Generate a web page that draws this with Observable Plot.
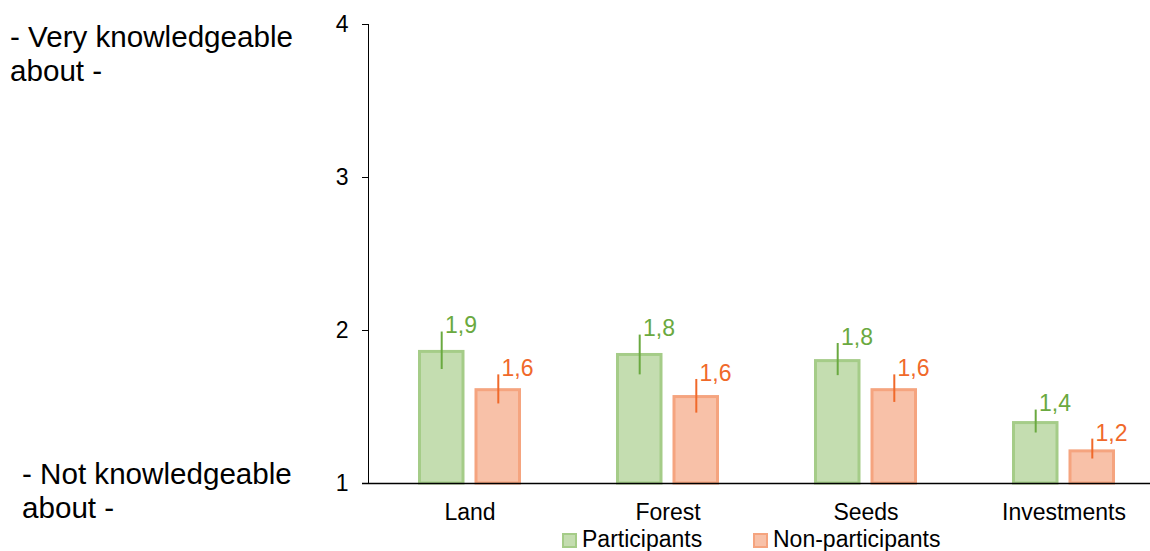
<!DOCTYPE html>
<html>
<head>
<meta charset="utf-8">
<script src="https://cdn.jsdelivr.net/npm/d3@7"></script>
<script src="https://cdn.jsdelivr.net/npm/@observablehq/plot@0.6"></script>
<style>
  html, body { margin: 0; padding: 0; background: #fff; }
  body { font-family: "Liberation Sans", Arial, sans-serif; color: #000; }
  #wrap { position: relative; width: 1150px; height: 551px; overflow: hidden; }
  .side { position: absolute; font-size: 29.6px; line-height: 34px; color: #000; white-space: nowrap; }
  #legend { position: absolute; left: 0; top: 527px; width: 1150px; height: 24px; font-size: 23px; line-height: 24px; }
  .item { position: absolute; top: 0; white-space: nowrap; }
  .sw { display: inline-block; width: 11px; height: 11px; border: 2px solid; margin-right: 5px; vertical-align: -1px; }
</style>
</head>
<body>
<div id="wrap">
  <div id="chart"></div>
  <div class="side" style="left:10px; top:19.5px;">- Very knowledgeable<br>about -</div>
  <div class="side" style="left:22px; top:456.5px;">- Not knowledgeable<br>about -</div>
  <div id="legend"></div>
</div>
<script>
const categories = ["Land", "Forest", "Seeds", "Investments"];
const seriesNames = ["Participants", "Non-participants"];
const participants = [1.86, 1.84, 1.80, 1.395];
const participantsLow = [1.745, 1.71, 1.705, 1.33];
const participantsHigh = [1.99, 1.97, 1.915, 1.48];
const participantLabels = ["1,9", "1,8", "1,8", "1,4"];
const nonParticipants = [1.61, 1.565, 1.61, 1.21];
const nonParticipantsLow = [1.52, 1.46, 1.53, 1.16];
const nonParticipantsHigh = [1.71, 1.68, 1.71, 1.29];
const nonParticipantLabels = ["1,6", "1,6", "1,6", "1,2"];
const yTicks = [1, 2, 3, 4];

const colors = {
  Participants: {fill: "#c4ddb0", stroke: "#a5cc88", dark: "#6aa940"},
  "Non-participants": {fill: "#f8c1a8", stroke: "#f5a47f", dark: "#f0692a"}
};

function rows(name, values, lows, highs, labels) {
  return categories.map((c, i) => ({category: c, series: name, value: values[i], low: lows[i], high: highs[i], label: labels[i]}));
}
const partRows = rows(seriesNames[0], participants, participantsLow, participantsHigh, participantLabels);
const nonRows = rows(seriesNames[1], nonParticipants, nonParticipantsLow, nonParticipantsHigh, nonParticipantLabels);

const P = colors.Participants, N = colors["Non-participants"];
const font = "Liberation Sans, Arial, sans-serif";

const chart = Plot.plot({
  width: 1150,
  height: 527,
  marginLeft: 368,
  marginRight: 0,
  marginTop: 24,
  marginBottom: 44,
  style: {fontFamily: font, fontSize: "23px", color: "#000", background: "#fff", overflow: "visible"},
  x: {domain: categories, range: [368.7, 1163.5], paddingInner: 0.482, paddingOuter: 0.241, label: null, tickSize: 0, tickPadding: 20},
  y: {domain: [1, 4], ticks: yTicks, tickFormat: d => String(d), label: null, tickSize: 6, tickPadding: 14, line: true},
  marks: [
    Plot.barY(partRows, {x: "category", y1: 1, y2: "value", fill: P.fill, stroke: P.stroke, strokeWidth: 3, insetLeft: 1.5, insetRight: 58}),
    Plot.barY(nonRows, {x: "category", y1: 1, y2: "value", fill: N.fill, stroke: N.stroke, strokeWidth: 3, insetLeft: 58, insetRight: 1.5}),
    Plot.ruleY([1], {stroke: "#000", strokeWidth: 1.5, insetLeft: -6}),
    Plot.ruleX(partRows, {x: "category", y1: "low", y2: "high", stroke: P.dark, strokeWidth: 2, dx: -28.3}),
    Plot.ruleX(nonRows, {x: "category", y1: "low", y2: "high", stroke: N.dark, strokeWidth: 2, dx: 28.3}),
    Plot.text(partRows, {x: "category", y: "high", text: "label", fill: P.dark, fontSize: 23, textAnchor: "start", dx: -25, dy: -6}),
    Plot.text(nonRows, {x: "category", y: "high", text: "label", fill: N.dark, fontSize: 23, textAnchor: "start", dx: 31.5, dy: -6})
  ]
});
document.getElementById("chart").appendChild(chart);

const legend = document.getElementById("legend");
const legendLefts = [562, 753];
seriesNames.forEach((name, i) => {
  const item = document.createElement("span");
  item.className = "item";
  item.style.left = legendLefts[i] + "px";
  const sw = document.createElement("span");
  sw.className = "sw";
  sw.style.background = colors[name].fill;
  sw.style.borderColor = colors[name].stroke;
  item.appendChild(sw);
  item.appendChild(document.createTextNode(name));
  legend.appendChild(item);
});
</script>
</body>
</html>
